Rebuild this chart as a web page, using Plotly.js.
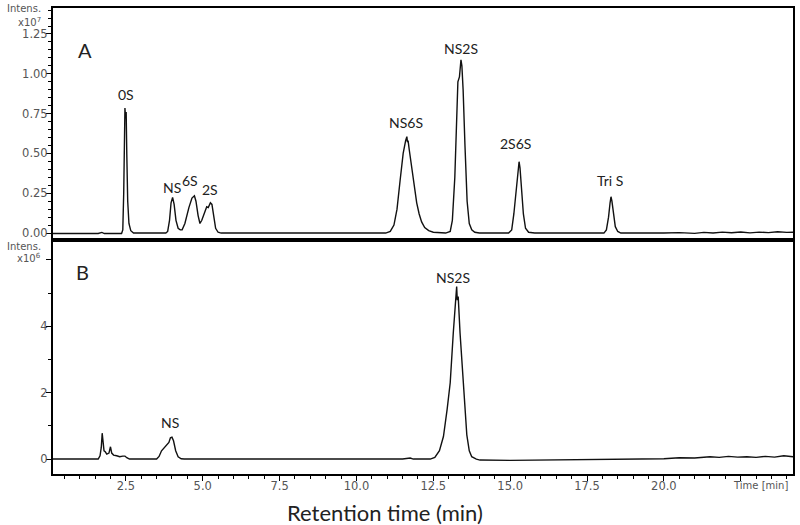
<!DOCTYPE html>
<html>
<head>
<meta charset="utf-8">
<script src="https://cdn.plot.ly/plotly-3.0.1.min.js"></script>
<style>html,body{margin:0;padding:0;background:#fff;}#chart{width:800px;height:525px;}</style>
</head>
<body>
<div id="chart"></div>
<script>
// Panel A chromatogram (time in min, intensity in x10^7)
const timeA = [0.13,1.60,1.72,1.80,2.36,2.40,2.43,2.45,2.47,2.49,2.51,2.53,2.56,2.60,2.66,2.75,
  3.80,3.86,3.92,3.97,4.02,4.07,4.13,4.20,4.27,4.33,4.42,4.55,4.65,4.73,4.78,4.85,4.91,4.97,5.05,5.13,5.18,5.25,5.30,5.36,5.42,5.50,5.60,
  10.95,11.10,11.22,11.32,11.42,11.52,11.60,11.64,11.66,11.68,11.72,11.80,11.88,11.96,12.04,12.12,12.22,12.35,12.50,
  12.90,13.05,13.12,13.20,13.26,13.30,13.35,13.40,13.43,13.47,13.53,13.60,13.67,13.75,13.85,14.00,
  14.95,15.05,15.12,15.20,15.26,15.29,15.32,15.37,15.43,15.50,15.60,15.80,
  18.05,18.13,18.20,18.25,18.28,18.31,18.36,18.42,18.50,18.60,
  20.0,20.5,21.0,21.3,21.6,21.9,22.2,22.5,22.8,23.1,23.4,23.7,24.0,24.2];
const intensA = [-0.003,-0.003,0.004,-0.003,-0.003,0.02,0.25,0.6,0.785,0.72,0.76,0.5,0.2,0.06,0.015,0.0,
  0.0,0.01,0.08,0.19,0.224,0.18,0.08,0.03,0.02,0.02,0.06,0.16,0.22,0.234,0.20,0.11,0.06,0.08,0.13,0.165,0.16,0.19,0.18,0.10,0.03,0.005,0.0,
  0.0,0.01,0.05,0.15,0.33,0.50,0.58,0.605,0.57,0.58,0.52,0.40,0.28,0.19,0.12,0.07,0.035,0.015,0.005,
  0.0,0.01,0.08,0.35,0.78,0.95,0.98,1.087,1.05,0.9,0.55,0.2,0.06,0.02,0.005,0.0,
  0.0,0.02,0.12,0.30,0.40,0.448,0.41,0.30,0.12,0.03,0.005,0.0,
  0.0,0.02,0.10,0.19,0.228,0.20,0.11,0.04,0.01,0.0,
  0.0,0.003,-0.002,0.004,0.0,0.006,0.002,0.007,0.001,0.006,0.003,0.008,0.004,0.005];

// Panel B chromatogram (time in min, intensity in x10^6)
const timeB = [0.13,1.60,1.66,1.70,1.73,1.76,1.79,1.83,1.88,1.95,2.00,2.04,2.10,2.20,2.30,2.40,2.47,2.53,2.62,
  3.50,3.58,3.66,3.74,3.82,3.90,3.95,4.00,4.05,4.12,4.20,4.30,4.40,
  11.50,11.75,11.85,12.40,12.55,12.70,12.83,12.95,13.05,13.15,13.22,13.26,13.28,13.31,13.37,13.48,13.59,13.67,13.75,13.90,14.02,
  15.0,16.0,17.0,17.5,18.0,18.5,19.0,19.5,20.0,20.5,21.0,21.5,21.8,22.1,22.4,22.7,23.0,23.3,23.6,23.9,24.2];
const intensB = [0.0,0.0,0.1,0.35,0.78,0.45,0.25,0.22,0.15,0.18,0.37,0.18,0.12,0.10,0.07,0.09,0.09,0.04,0.0,
  0.0,0.08,0.25,0.34,0.40,0.50,0.64,0.66,0.55,0.25,0.07,0.01,0.0,
  0.0,0.03,0.0,0.0,0.05,0.25,0.68,1.5,2.3,3.8,4.7,5.2,4.79,4.9,3.8,2.3,0.73,0.25,0.07,0.0,-0.03,
  -0.04,-0.03,-0.02,0.0,-0.01,0.01,0.0,0.02,0.01,0.04,0.03,0.07,0.05,0.08,0.06,0.07,0.05,0.08,0.06,0.10,0.07];

// Peak labels
const labelsA = ['0S','NS','6S','2S','NS6S','NS2S','2S6S','Tri S'];
const labelAx = [2.49,4.0,4.6,5.24,11.60,13.40,15.16,18.25];
const labelAy = [0.867,0.283,0.327,0.276,0.693,1.16,0.563,0.333];
const labelsB = ['NS','NS2S'];
const labelBx = [3.94,13.15];
const labelBy = [1.1,5.47];

const xTickVals = [2.5,5.0,7.5,10.0,12.5,15.0,17.5,20.0,22.5];
const xTickText = ['2.5','5.0','7.5','10.0','12.5','15.0','17.5','20.0',''];
const yATickVals = [0,0.25,0.5,0.75,1.0,1.25];
const yATickText = ['0.00','0.25','0.50','0.75','1.00','1.25'];
const yBTickVals = [0,2,4,6];
const yBTickText = ['0','2','4',''];

const tickFont = {family:'DejaVu Sans, Arial, sans-serif', size:11.5, color:'#555'};
const smallFont = {family:'DejaVu Sans, Arial, sans-serif', size:10, color:'#555'};
const lblFont = {family:'Lato, Open Sans, sans-serif', size:14, color:'#222'};

const traces = [
  {x:timeA, y:intensA, xaxis:'x2', yaxis:'y2', type:'scatter', mode:'lines', line:{color:'#111', width:1.4}, hoverinfo:'skip'},
  {x:timeB, y:intensB, xaxis:'x', yaxis:'y', type:'scatter', mode:'lines', line:{color:'#111', width:1.4}, hoverinfo:'skip'}
];

const annotations = [];
labelsA.forEach((t,i)=>annotations.push({x:labelAx[i], y:labelAy[i], xref:'x2', yref:'y2', xanchor:'center', yanchor:'middle', text:t, showarrow:false, font:lblFont}));
labelsB.forEach((t,i)=>annotations.push({x:labelBx[i], y:labelBy[i], xref:'x', yref:'y', xanchor:'center', yanchor:'middle', text:t, showarrow:false, font:lblFont}));
annotations.push({x:1.17, y:1.15, xref:'x2', yref:'y2', xanchor:'center', yanchor:'middle', text:'A', showarrow:false, font:{family:'Lato, Open Sans, sans-serif', size:20, color:'#222'}});
annotations.push({x:1.10, y:5.65, xref:'x', yref:'y', xanchor:'center', yanchor:'middle', text:'B', showarrow:false, font:{family:'Lato, Open Sans, sans-serif', size:20, color:'#222'}});
annotations.push({x:-0.013, y:0.998, xref:'paper', yref:'paper', xanchor:'right', yanchor:'middle', text:'Intens.', showarrow:false, font:smallFont});
annotations.push({x:-0.013, y:0.970, xref:'paper', yref:'paper', xanchor:'right', yanchor:'middle', text:'x10<sup>7</sup>', showarrow:false, font:smallFont});
annotations.push({x:-0.013, y:0.489, xref:'paper', yref:'paper', xanchor:'right', yanchor:'middle', text:'Intens.', showarrow:false, font:smallFont});
annotations.push({x:-0.013, y:0.463, xref:'paper', yref:'paper', xanchor:'right', yanchor:'middle', text:'x10<sup>6</sup>', showarrow:false, font:smallFont});
annotations.push({x:0.996, y:-0.024, xref:'paper', yref:'paper', xanchor:'right', yanchor:'middle', text:'Time [min]', showarrow:false, font:smallFont});
annotations.push({x:0.449, y:-0.082, xref:'paper', yref:'paper', xanchor:'center', yanchor:'middle', text:'Retention time (min)', showarrow:false, font:{family:'Lato, Open Sans, sans-serif', size:22, color:'#222'}});

const axBase = {showline:true, linecolor:'#000', linewidth:2, mirror:true, showgrid:false, zeroline:false};

const layout = {
  width:800, height:525,
  margin:{l:53, r:7, t:8, b:51},
  paper_bgcolor:'#fff', plot_bgcolor:'#fff',
  showlegend:false,
  xaxis: Object.assign({}, axBase, {anchor:'y', domain:[0,1], range:[0.13,24.2],
    tickmode:'array', tickvals:xTickVals, ticktext:xTickText, ticks:'outside', ticklen:5, tickwidth:1, tickcolor:'#000',
    ticklabelstandoff:-5,
    tickfont:tickFont, minor:{tickmode:'linear', tick0:0, dtick:0.5, ticks:'outside', ticklen:3, tickcolor:'#000', tickwidth:1}}),
  xaxis2: Object.assign({}, axBase, {anchor:'y2', domain:[0,1], range:[0.13,24.2], matches:'x', showticklabels:false, ticks:''}),
  yaxis: Object.assign({}, axBase, {anchor:'x', domain:[0,0.502], range:[-0.45,6.6],
    tickmode:'array', tickvals:yBTickVals, ticktext:yBTickText, ticks:'outside', ticklen:5, tickwidth:1, tickcolor:'#000',
    ticklabelstandoff:-4,
    tickfont:tickFont, minor:{tickmode:'linear', tick0:0, dtick:1, ticks:'outside', ticklen:3, tickcolor:'#000', tickwidth:1}}),
  yaxis2: Object.assign({}, axBase, {anchor:'x2', domain:[0.502,1], range:[-0.044,1.413],
    tickmode:'array', tickvals:yATickVals, ticktext:yATickText, ticks:'outside', ticklen:5, tickwidth:1, tickcolor:'#000',
    ticklabelstandoff:-4,
    tickfont:tickFont, minor:{tickmode:'linear', tick0:0, dtick:0.05, ticks:'outside', ticklen:3, tickcolor:'#000', tickwidth:1}}),
  annotations: annotations
};

Plotly.newPlot('chart', traces, layout, {staticPlot:true, displayModeBar:false});
</script>
</body>
</html>
